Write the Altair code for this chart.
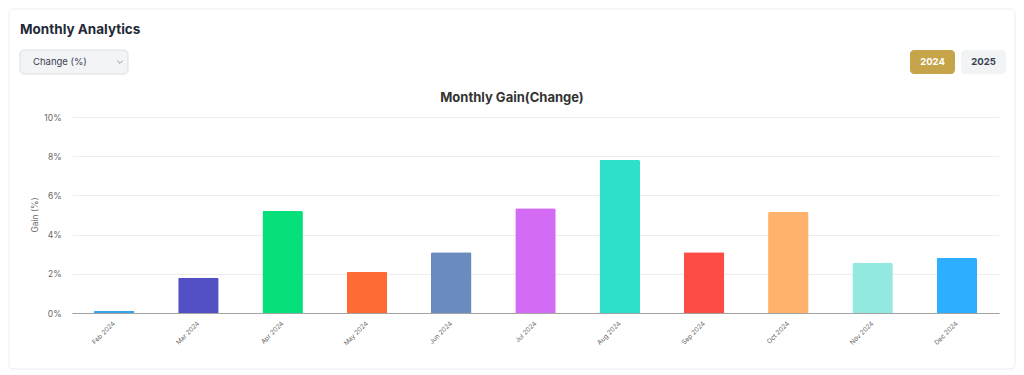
import altair as alt
import pandas as pd

months = ["Feb 2024", "Mar 2024", "Apr 2024", "May 2024", "Jun 2024", "Jul 2024",
          "Aug 2024", "Sep 2024", "Oct 2024", "Nov 2024", "Dec 2024"]
gains = [0.1, 1.8, 5.2, 2.1, 3.1, 5.35, 7.8, 3.1, 5.15, 2.55, 2.8]
colors = ["#36A2EB", "#534FC4", "#05E07A", "#FF6B35", "#6B8BBE", "#D36BF5",
          "#2EE0C9", "#FF4B45", "#FFB26B", "#93E8DF", "#2EAEFF"]
y_ticks = [0, 2, 4, 6, 8, 10]

FONT = "Inter"
W, H = 927, 196

df = pd.DataFrame({"month": months, "gain": gains})
one = pd.DataFrame({"k": [0]})

bars = alt.Chart(df).mark_bar(cornerRadiusTopLeft=1.5, cornerRadiusTopRight=1.5).encode(
    x=alt.X("month:N", sort=months,
            scale=alt.Scale(paddingInner=0.52, paddingOuter=0.26),
            axis=alt.Axis(title=None, labelAngle=-45, labelAlign="right", labelBaseline="middle",
                          labelFontSize=6.5, labelColor="#666666", labelFont=FONT,
                          ticks=False, labelPadding=9, domainColor="#A3A3A3", domainWidth=1,
                          grid=False)),
    y=alt.Y("gain:Q", scale=alt.Scale(domain=[0, 10], nice=False),
            axis=alt.Axis(title=None, values=y_ticks, labelExpr="datum.value + '%'",
                          labelFontSize=8.5, labelColor="#666666", labelFont=FONT,
                          ticks=False, labelPadding=11, domain=False,
                          grid=True, gridColor="#EDEDED", gridWidth=1)),
    color=alt.Color("month:N", sort=months, scale=alt.Scale(domain=months, range=colors), legend=None),
)

def rect(x, x2, y, y2, fill, stroke=None, r=0, fill_opacity=1):
    kw = dict(fill=fill, cornerRadius=r, fillOpacity=fill_opacity)
    if stroke:
        kw.update(stroke=stroke, strokeWidth=1)
    return alt.Chart(one).mark_rect(**kw).encode(
        x=alt.value(x), x2=alt.value(x2), y=alt.value(y), y2=alt.value(y2))

def text(t, x, y, size, color, weight="normal", align="left", angle=0):
    return alt.Chart(one).mark_text(text=t, fontSize=size, color=color, fontWeight=weight,
                                    align=align, baseline="middle", font=FONT, angle=angle).encode(
        x=alt.value(x), y=alt.value(y))

card = rect(-63, 943, -108, 252, "#FFFFFF", "#ECECEC", 4, 0)
dropdown = rect(-52, 56, -67, -43, "#F3F4F6", "#DADDE2", 4)
btn24 = rect(838, 883, -67, -43, "#C6A44A", None, 4)
btn25 = rect(889, 934, -67, -43, "#F1F3F5", None, 4)
chevron = alt.Chart(one).mark_point(shape="M-1,-0.5L0,0.5L1,-0.5", filled=False,
                                    color="#6B7280", strokeWidth=1, size=30).encode(
    x=alt.value(48), y=alt.value(-55))

layers = [
    bars,
    card,
    dropdown, btn24, btn25, chevron,
    text("Monthly Analytics", -52, -87, 13.5, "#1F2937", "bold"),
    text("Change (%)", -39, -55, 9.5, "#374151", "normal"),
    text("2024", 860.5, -55, 9.5, "#FFFFFF", "bold", "center"),
    text("2025", 911.5, -55, 9.5, "#374151", "bold", "center"),
    text("Monthly Gain(Change)", 440, -19, 13, "#333333", "bold", "center"),
    text("Gain (%)", -37, 98, 8.5, "#666666", "normal", "center", 270),
]

chart = alt.layer(*layers).properties(
    width=W, height=H,
    background="#FFFFFF",
    autosize=alt.AutoSizeParams(type="none"),
    padding={"left": 64, "top": 109, "right": 17, "bottom": 57},
).configure_view(stroke="transparent", strokeWidth=0)

chart.save("out.html", embed_options={"renderer": "svg", "actions": False})
